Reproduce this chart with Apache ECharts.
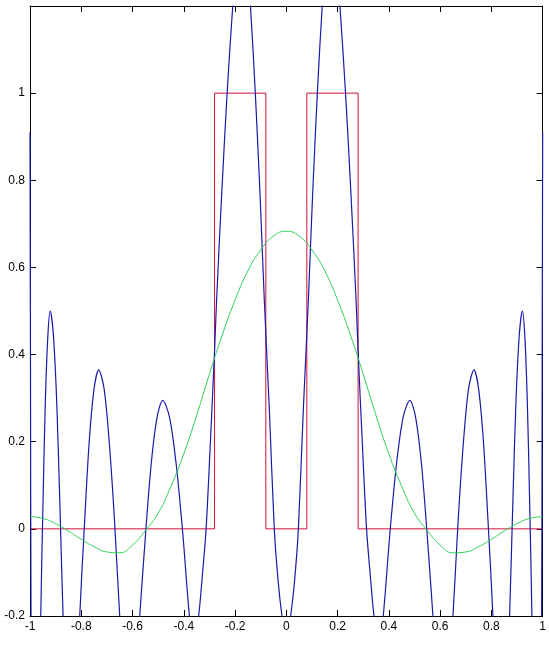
<!DOCTYPE html>
<html>
<head>
<meta charset="utf-8">
<script src="https://cdn.jsdelivr.net/npm/echarts@6/dist/echarts.min.js"></script>
<style>
  html, body { margin: 0; padding: 0; background: #fff; }
  #chart { width: 549px; height: 648px; }
</style>
</head>
<body>
<div id="chart"></div>
<script>
// ideal band (red)
const redX = [-1, -0.28, -0.28, -0.08, -0.08, 0.08, 0.08, 0.28, 0.28, 1]
const redY = [0, 0, 1, 1, 0, 0, 1, 1, 0, 0]

// low order fit (green)
const greenX = [-1, -0.95, -0.9, -0.85, -0.8, -0.75, -0.7, -0.65, -0.6, -0.55, -0.5,
  -0.45, -0.4, -0.35, -0.3, -0.25, -0.2, -0.15, -0.1, -0.05, 0,
  0.05, 0.1, 0.15, 0.2, 0.25, 0.3, 0.35, 0.4, 0.45, 0.5,
  0.55, 0.6, 0.65, 0.7, 0.75, 0.8, 0.85, 0.9, 0.95, 1]
const greenY = [0.028, 0.024, 0.012, -0.005, -0.024, -0.041, -0.053, -0.055, -0.037, -0.004, 0.036,
  0.098, 0.172, 0.26, 0.355, 0.445, 0.525, 0.592, 0.64, 0.672, 0.683,
  0.672, 0.64, 0.592, 0.525, 0.445, 0.355, 0.26, 0.172, 0.098, 0.036,
  -0.004, -0.037, -0.055, -0.053, -0.041, -0.024, -0.005, 0.012, 0.024, 0.028]

// high order fit (blue)
const blueX = [-1, -0.998, -0.996, -0.988, -0.978, -0.967, -0.958, -0.949, -0.94, -0.93,
  -0.921, -0.909, -0.896, -0.884, -0.871, -0.855, -0.838, -0.822, -0.806, -0.787,
  -0.769, -0.75, -0.732, -0.711, -0.691, -0.67, -0.65, -0.63, -0.611, -0.591,
  -0.572, -0.549, -0.527, -0.504, -0.482, -0.456, -0.43, -0.404, -0.378, -0.36,
  -0.342, -0.328, -0.313, -0.297, -0.281, -0.272, -0.252, -0.231, -0.209, -0.191,
  -0.175, -0.157, -0.14, -0.121, -0.102, -0.086, -0.066, -0.047, -0.032, -0.017,
  0,
  0.017, 0.032, 0.047, 0.066, 0.086, 0.102, 0.121, 0.14, 0.157, 0.175,
  0.191, 0.209, 0.231, 0.252, 0.272, 0.281, 0.297, 0.313, 0.328, 0.342,
  0.36, 0.378, 0.404, 0.43, 0.456, 0.482, 0.504, 0.527, 0.549, 0.572,
  0.591, 0.611, 0.63, 0.65, 0.67, 0.691, 0.711, 0.732, 0.75, 0.769,
  0.787, 0.806, 0.822, 0.838, 0.855, 0.871, 0.884, 0.896, 0.909, 0.921,
  0.93, 0.94, 0.949, 0.958, 0.967, 0.978, 0.988, 0.996, 0.998, 1]
const blueY = [0.91, 0.35, -0.2, -0.7, -0.9, -0.65, -0.2, 0.068, 0.295, 0.447,
  0.5, 0.447, 0.295, 0.068, -0.2, -0.45, -0.55, -0.45, -0.2, 0.016,
  0.2, 0.322, 0.365, 0.322, 0.2, 0.016, -0.2, -0.36, -0.42, -0.36,
  -0.2, -0.01, 0.15, 0.257, 0.295, 0.257, 0.15, -0.01, -0.2, -0.27,
  -0.2, -0.11, 0, 0.19, 0.395, 0.526, 0.77, 1.0, 1.2, 1.33,
  1.37, 1.33, 1.2, 1.0, 0.76, 0.526, 0.27, 0, -0.12, -0.2,
  -0.26,
  -0.2, -0.12, 0, 0.27, 0.526, 0.76, 1.0, 1.2, 1.33, 1.37,
  1.33, 1.2, 1.0, 0.77, 0.526, 0.395, 0.19, 0, -0.11, -0.2,
  -0.27, -0.2, -0.01, 0.15, 0.257, 0.295, 0.257, 0.15, -0.01, -0.2,
  -0.36, -0.42, -0.36, -0.2, 0.016, 0.2, 0.322, 0.365, 0.322, 0.2,
  0.016, -0.2, -0.45, -0.55, -0.45, -0.2, 0.068, 0.295, 0.447, 0.5,
  0.447, 0.295, 0.068, -0.2, -0.65, -0.9, -0.7, -0.2, 0.35, 0.91]

const pairs = (xs, ys) => xs.map((x, i) => [x, ys[i]])

const font = { color: '#000', fontFamily: 'Liberation Sans, Arial, sans-serif', fontSize: 12 }

const chart = echarts.init(document.getElementById('chart'))
chart.setOption({
  animation: false,
  backgroundColor: '#fff',
  grid: { left: 30, right: 5, top: 6, bottom: 32 },
  xAxis: [
    {
      type: 'value', min: -1, max: 1, interval: 0.2, position: 'bottom',
      axisLine: { onZero: false, lineStyle: { color: '#000' } },
      axisTick: { inside: true, length: 6, lineStyle: { color: '#000' } },
      axisLabel: { ...font, margin: 5 },
      splitLine: { show: false },
    },
    {
      type: 'value', min: -1, max: 1, interval: 0.2, position: 'top',
      axisLine: { onZero: false, lineStyle: { color: '#000' } },
      axisTick: { inside: true, length: 6, lineStyle: { color: '#000' } },
      axisLabel: { show: false },
      splitLine: { show: false },
    },
  ],
  yAxis: [
    {
      type: 'value', min: -0.2, max: 1.2, interval: 0.2, position: 'left',
      axisLine: { onZero: false, lineStyle: { color: '#000' } },
      axisTick: { inside: true, length: 6, lineStyle: { color: '#000' } },
      axisLabel: { ...font, margin: 5, showMaxLabel: false },
      splitLine: { show: false },
    },
    {
      type: 'value', min: -0.2, max: 1.2, interval: 0.2, position: 'right',
      axisLine: { onZero: false, lineStyle: { color: '#000' } },
      axisTick: { inside: true, length: 6, lineStyle: { color: '#000' } },
      axisLabel: { show: false },
      splitLine: { show: false },
    },
  ],
  series: [
    {
      type: 'line', data: pairs(redX, redY), showSymbol: false,
      lineStyle: { color: '#d0103a', width: 1 },
    },
    {
      type: 'line', data: pairs(blueX, blueY), showSymbol: false,
      smooth: 0.3,
      lineStyle: { color: '#1a1aa8', width: 1.2 },
    },
    {
      type: 'line', data: pairs(greenX, greenY), showSymbol: false,
      smooth: true,
      lineStyle: { color: '#2fd35a', width: 1 },
    },
  ],
})
</script>
</body>
</html>
